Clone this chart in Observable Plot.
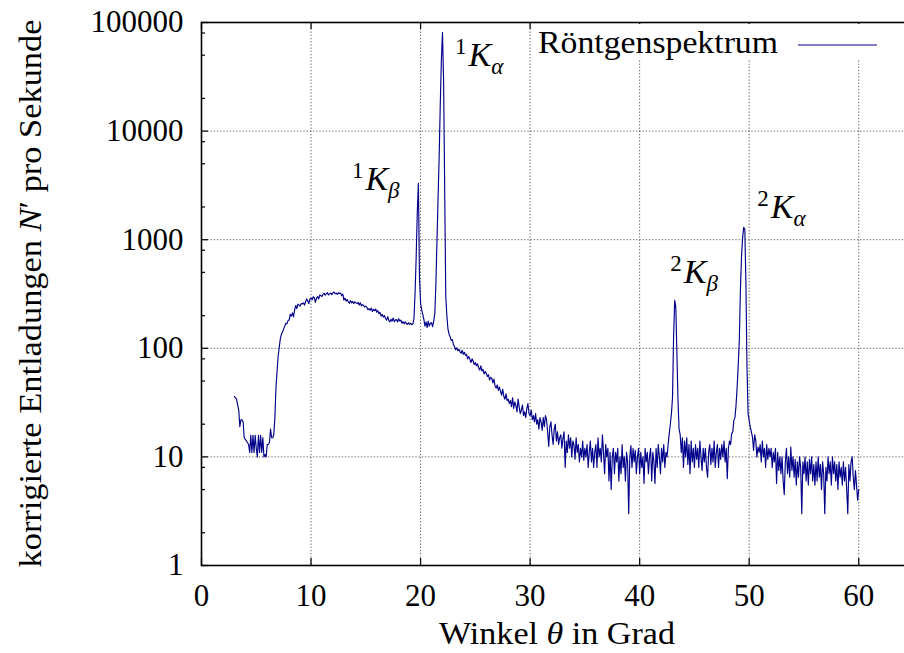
<!DOCTYPE html>
<html><head><meta charset="utf-8">
<script src="https://cdn.jsdelivr.net/npm/d3@7"></script>
<script src="https://cdn.jsdelivr.net/npm/@observablehq/plot@0.6"></script>
<style>
html,body{margin:0;padding:0;overflow:hidden;background:#fff;}
#chart{width:904px;height:653px;overflow:hidden;position:relative;}
#chart svg{max-width:none !important;width:920px !important;height:653px !important;display:block;}
</style></head><body><div id="chart"></div>
<script>
// Scan: angle theta from 3.0° to 60.0° in steps of 0.1°
const thetaStart = 3.0, thetaStep = 0.1;
// corrected counts N' per second, one row per degree (x.0 ... x.9)
const counts = [
  36, 35, 34, 30, 27, 19, 22, 22, 21, 15,
  14.5, 14, 13.5, 13, 11, 15.8, 11, 15.8, 11, 15.8,
  12, 10, 15.8, 11, 15.8, 11, 15, 10, 10.5, 10,
  13, 13, 13.5, 18, 15, 15, 16, 23, 44, 62,
  85, 103, 123, 135, 142, 150, 160, 170, 168, 180,
  182, 205, 198, 212, 195, 225, 248, 232, 255, 250,
  245, 258, 256, 262, 250, 268, 285, 272, 258, 285,
  290, 280, 298, 292, 265, 290, 300, 285, 310, 305,
  300, 315, 322, 308, 318, 325, 310, 318, 322, 312,
  324, 330, 318, 322, 314, 325, 320, 322, 305, 315,
  278, 290, 272, 282, 268, 260, 275, 262, 270, 258,
  268, 262, 258, 265, 250, 262, 246, 252, 248, 240,
  244, 238, 226, 232, 224, 235, 218, 228, 222, 230,
  215, 222, 208, 214, 198, 205, 194, 200, 188, 182,
  196, 180, 175, 185, 178, 190, 176, 182, 184, 175,
  187, 178, 182, 170, 176, 168, 175, 170, 166, 172,
  166, 170, 165, 168, 190, 330, 700, 1800, 3300, 450,
  260, 225, 205, 185, 160, 175, 155, 178, 160, 170,
  172, 158, 178, 210, 400, 1000, 2500, 6000, 18000, 45000,
  81000, 30000, 3000, 300, 200, 150, 135, 128, 118, 120,
  108, 104, 97, 101, 95, 98, 93, 90, 96, 88,
  92, 86, 88, 80, 84, 79, 74, 80, 76, 71,
  74, 69, 72, 66, 63, 69, 62, 64, 58, 61,
  59, 55, 57, 51, 54, 53, 48, 52, 45, 43,
  46, 41, 44, 40, 37, 42, 36, 34, 38, 33,
  34, 31, 33, 29, 35, 28, 32, 30, 26, 34,
  29, 25, 27, 30, 24, 26, 23, 28, 31, 25,
  24, 27, 22, 24, 21, 25, 20, 22, 18, 23,
  21, 17.5, 23, 19, 24, 22, 17, 12.5, 19, 21,
  16, 13, 18, 20, 14, 17, 13, 15, 16, 12,
  15, 17, 8, 14, 11, 16, 12, 15, 10, 14,
  13, 9.5, 15, 11, 13, 9, 12, 10, 14, 9.3,
  12, 10, 13, 8, 11, 14, 9, 12, 8, 11,
  13, 8, 15, 10, 12, 9, 16, 11, 7, 13,
  10, 12, 6, 11, 5, 10, 12, 7, 11, 9,
  12, 6, 10, 7, 13, 8, 10, 6, 11, 9,
  3, 10, 12.7, 8, 12, 9, 11.5, 7, 10, 12,
  7, 11, 8, 10, 5.7, 12, 9, 11, 7, 10,
  12, 6, 11, 9, 5.7, 12, 8, 13, 10, 7,
  12, 9, 13, 8, 11, 10, 13, 16.4, 20, 25,
  35, 130, 277, 240, 90, 33, 18, 16, 11, 15,
  8, 14, 10, 15, 8.5, 13, 7, 14, 9, 12,
  8, 13, 9.5, 12, 8, 14, 10, 7.5, 12, 9,
  12, 8, 6.5, 11, 13, 8.5, 12, 9, 14, 8,
  11, 13, 8, 12, 9.5, 13, 10, 14, 9, 12,
  6.3, 12, 14, 13, 16.4, 17, 21.7, 23, 30, 44,
  70, 120, 350, 700, 1050, 1300, 1250, 400, 67, 25,
  21.7, 18.8, 17, 15.2, 11.5, 16, 14.2, 10, 12.3, 11,
  13, 9, 14, 10, 12, 8, 13, 9.5, 12, 10,
  12, 8, 11, 9, 12, 5.7, 11, 7.5, 10, 7,
  10, 6, 4.5, 9, 12, 7, 10, 6.5, 12.3, 7.5,
  10, 6.5, 9.5, 5.5, 9, 6.5, 10, 8, 3, 9,
  7, 10, 6, 9, 5.5, 9.5, 7, 10, 6, 8.5,
  5.5, 9, 6, 10, 6.5, 8.5, 5, 9, 7, 3,
  8, 6, 10, 7, 9, 5.5, 10, 7, 9, 6,
  8.5, 5, 9, 6.5, 8, 5.5, 9, 6, 8, 5,
  3, 8.5, 6, 9, 10, 6.5, 5, 7.5, 5.5, 4,
  5
];
const xTicks = [0, 10, 20, 30, 40, 50, 60];
const xTickLabels = ["0", "10", "20", "30", "40", "50", "60"];
const yTicks = [1, 10, 100, 1000, 10000, 100000];
const yTickLabels = ["1", "10", "100", "1000", "10000", "100000"];
const yMinorTicks = [2, 5, 8, 20, 50, 80, 200, 500, 800, 2000, 5000, 8000, 20000, 50000, 80000];
const xGrid = [10, 20, 30, 40, 50, 60];
const yGrid = [10, 100, 1000, 10000];
const peakSup = ["1", "1", "2", "2"];
const peakSub = ["β", "α", "β", "α"];
const peakTheta = [19.8, 22.0, 43.2, 49.5];
const peakCount = [3300, 81000, 277, 1300];
const seriesName = "Röntgenspektrum";

const data = counts.map((c, i) => ({theta: +(thetaStart + i * thetaStep).toFixed(1), n: c}));

const FONT = "'Liberation Serif', 'DejaVu Serif', serif";
const W = 920, H = 653, mL = 201, mR = 7, mT = 22, mB = 88;
const iw = W - mL - mR, ih = H - mT - mB;
const gridStyle = {stroke: "#555", strokeWidth: 1, strokeDasharray: "1.2,2"};
const tickStyle = {stroke: "#111", strokeWidth: 1.3};
const xFmt = new Map(xTicks.map((t, i) => [t, xTickLabels[i]]));
const yFmt = new Map(yTicks.map((t, i) => [t, yTickLabels[i]]));

const plot = Plot.plot({
  width: W, height: H,
  marginLeft: mL, marginRight: mR, marginTop: mT, marginBottom: mB,
  style: {fontFamily: FONT, fontSize: "31px", background: "#fff", color: "#000", maxWidth: "none"},
  x: {domain: [0, 65]},
  y: {type: "log", domain: [1, 100000]},
  marks: [
    Plot.ruleX(xGrid, gridStyle),
    Plot.ruleY(yGrid, gridStyle),
    Plot.ruleX(xTicks, {insetTop: ih - 7, ...tickStyle}),
    Plot.ruleX(xTicks, {insetBottom: ih - 7, ...tickStyle}),
    Plot.ruleY(yTicks, {insetRight: iw - 7, ...tickStyle}),
    Plot.ruleY(yMinorTicks, {insetRight: iw - 4, ...tickStyle}),
    Plot.line(data, {x: "theta", y: "n", stroke: "#00008b", strokeWidth: 1.15}),
    Plot.frame({stroke: "#000", strokeWidth: 1.6}),
    Plot.axisX({ticks: xTicks, tickFormat: d => xFmt.get(d), tickSize: 0, tickPadding: 18, label: null, fontSize: 31}),
    Plot.axisY({ticks: yTicks, tickFormat: d => yFmt.get(d), tickSize: 0, tickPadding: 18, label: null, fontSize: 31})
  ]
});
document.getElementById("chart").appendChild(plot);

const svg = d3.select(plot).attr("font-family", FONT);
const sx = plot.scale("x"), sy = plot.scale("y");

// peak annotations, anchored at the peak values through the scales
const labelOffsets = [[-66, 7], [13, 34], [-4, -17], [14, -9]];
peakTheta.forEach((t, i) => {
  const px = sx.apply(t), py = sy.apply(peakCount[i]);
  const tx = svg.append("text")
    .attr("x", px + labelOffsets[i][0]).attr("y", py + labelOffsets[i][1])
    .attr("text-anchor", "start").attr("font-family", FONT)
    .attr("font-size", 34).attr("fill", "#000");
  tx.append("tspan").attr("font-size", 23).attr("dy", -12).text(peakSup[i]);
  tx.append("tspan").attr("font-style", "italic").attr("dy", 12).attr("dx", 2).text("K");
  tx.append("tspan").attr("font-style", "italic").attr("font-size", 23).attr("dy", 8).text(peakSub[i]);
});

// axis titles
const xl = svg.append("text").attr("x", mL + iw / 2).attr("y", 644)
  .attr("text-anchor", "middle").attr("fill", "#000").attr("font-family", FONT).attr("font-size", 31)
  .attr("textLength", 236).attr("lengthAdjust", "spacingAndGlyphs");
xl.append("tspan").text("Winkel ");
xl.append("tspan").attr("font-style", "italic").text("θ");
xl.append("tspan").text(" in Grad");

const yl = svg.append("text").attr("transform", `translate(41,${mT + ih / 2}) rotate(-90)`)
  .attr("text-anchor", "middle").attr("fill", "#000").attr("font-family", FONT).attr("font-size", 31)
  .attr("textLength", 548).attr("lengthAdjust", "spacingAndGlyphs");
yl.append("tspan").text("korrigierte Entladungen ");
yl.append("tspan").attr("font-style", "italic").text("N");
yl.append("tspan").text("′ pro Sekunde");

// key (opaque box, top right)
const key = svg.append("g");
key.append("rect").attr("x", 533).attr("y", mT + 2).attr("width", 365).attr("height", 36).attr("fill", "#fff");
key.append("text").attr("x", 538).attr("y", 53).attr("fill", "#000")
  .attr("text-anchor", "start").attr("font-family", FONT).attr("font-size", 31)
  .attr("textLength", 240).attr("lengthAdjust", "spacingAndGlyphs").text(seriesName);
key.append("line").attr("x1", 798).attr("x2", 877).attr("y1", 45).attr("y2", 45)
  .attr("stroke", "#00008b").attr("stroke-width", 1.1);
</script>
</body></html>
